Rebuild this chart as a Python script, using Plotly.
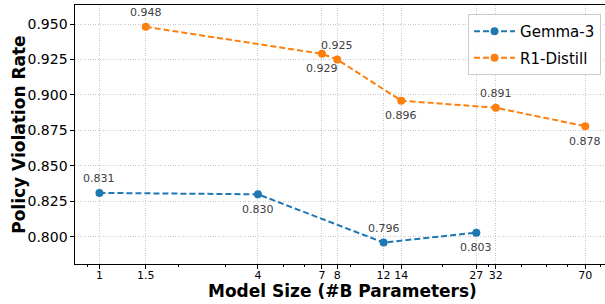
import numpy as np
import plotly.graph_objects as go

gemma_sizes = [1, 4, 12, 27]
gemma_rates = [0.831, 0.830, 0.796, 0.803]
gemma_label_pos = ["above", "below", "above", "below"]

r1_sizes = [1.5, 7, 8, 14, 32, 70]
r1_rates = [0.948, 0.929, 0.925, 0.896, 0.891, 0.878]
r1_label_pos = ["above", "below", "above", "below", "above", "below"]

x_tickvals = [1, 1.5, 4, 7, 8, 12, 14, 27, 32, 70]
x_ticktext = ["1", "1.5", "4", "7", "8", "12", "14", "27", "32", "70"]
x_minor = [0.9, 2, 3, 5, 6, 9, 20, 30, 40, 50, 60, 80]
y_tickvals = [0.800, 0.825, 0.850, 0.875, 0.900, 0.925, 0.950]

BLUE = "#1f77b4"
ORANGE = "#ff7f0e"
FONT = "DejaVu Sans"
GRID = "#c8c8c8"

fig = go.Figure()
for name, xs, ys, col in [("Gemma-3", gemma_sizes, gemma_rates, BLUE),
                          ("R1-Distill", r1_sizes, r1_rates, ORANGE)]:
    fig.add_trace(go.Scatter(
        x=xs, y=ys, mode="lines+markers", name=name, legendgroup=name,
        line=dict(color=col, width=2, dash="6px,3px"),
        marker=dict(color=col, size=8),
    ))

annotations = []
for xs, ys, pos in [(gemma_sizes, gemma_rates, gemma_label_pos),
                    (r1_sizes, r1_rates, r1_label_pos)]:
    for x, y, p in zip(xs, ys, pos):
        annotations.append(dict(
            x=np.log10(x), y=y, xref="x", yref="y", text=f"{y:.3f}",
            showarrow=False, yshift=14 if p == "above" else -15,
            font=dict(family=FONT, size=11, color="#404040"),
            xanchor="center", yanchor="middle"))

# axis titles
annotations.append(dict(x=0.5044, y=-0.059, xref="paper", yref="paper",
                        text="<b>Model Size (#B Parameters)</b>", showarrow=False,
                        font=dict(family=FONT, size=17, color="black"),
                        xanchor="center", yanchor="top"))
annotations.append(dict(x=-0.107, y=0.5, xref="paper", yref="paper",
                        text="<b>Policy Violation Rate</b>", showarrow=False,
                        textangle=-90,
                        font=dict(family=FONT, size=17, color="black"),
                        xanchor="center", yanchor="middle"))

fig.update_layout(
    width=605, height=304,
    margin=dict(l=75, r=0, t=5, b=40),
    plot_bgcolor="white", paper_bgcolor="white",
    font=dict(family=FONT, color="black"),
    annotations=annotations,
    legend=dict(x=0.9925, y=0.965, xanchor="right", yanchor="top",
                bgcolor="rgba(255,255,255,0.85)", bordercolor="#cccccc",
                borderwidth=1, font=dict(family=FONT, size=15),
                itemwidth=41, tracegroupgap=4),
    showlegend=True,
)
fig.update_xaxes(
    type="log", range=[-0.0927, 1.920],
    tickmode="array", tickvals=x_tickvals, ticktext=x_ticktext,
    tickfont=dict(family=FONT, size=11, color="black"),
    ticks="outside", ticklen=3.5, tickwidth=1, tickcolor="black",
    ticklabelstandoff=-3,
    showline=True, linecolor="black", linewidth=1.25, mirror=True,
    showgrid=True, gridcolor=GRID, griddash="1px,1.5px", gridwidth=0.8,
    zeroline=False,
    minor=dict(tickmode="array", tickvals=x_minor, ticks="outside", ticklen=2,
               tickcolor="black", tickwidth=0.8, showgrid=False),
)
fig.update_yaxes(
    range=[0.7809, 0.9634],
    tickmode="array", tickvals=y_tickvals, tickformat=".3f",
    tickfont=dict(family=FONT, size=14, color="black"),
    ticks="outside", ticklen=3.5, tickwidth=1, tickcolor="black",
    showline=True, linecolor="black", linewidth=1.25, mirror=False,
    showgrid=True, gridcolor=GRID, griddash="1px,1.5px", gridwidth=0.8,
    zeroline=False,
)

fig.write_html("out.html", config={"displayModeBar": False},
               post_script="document.body.style.margin='0';document.body.style.padding='0';")
